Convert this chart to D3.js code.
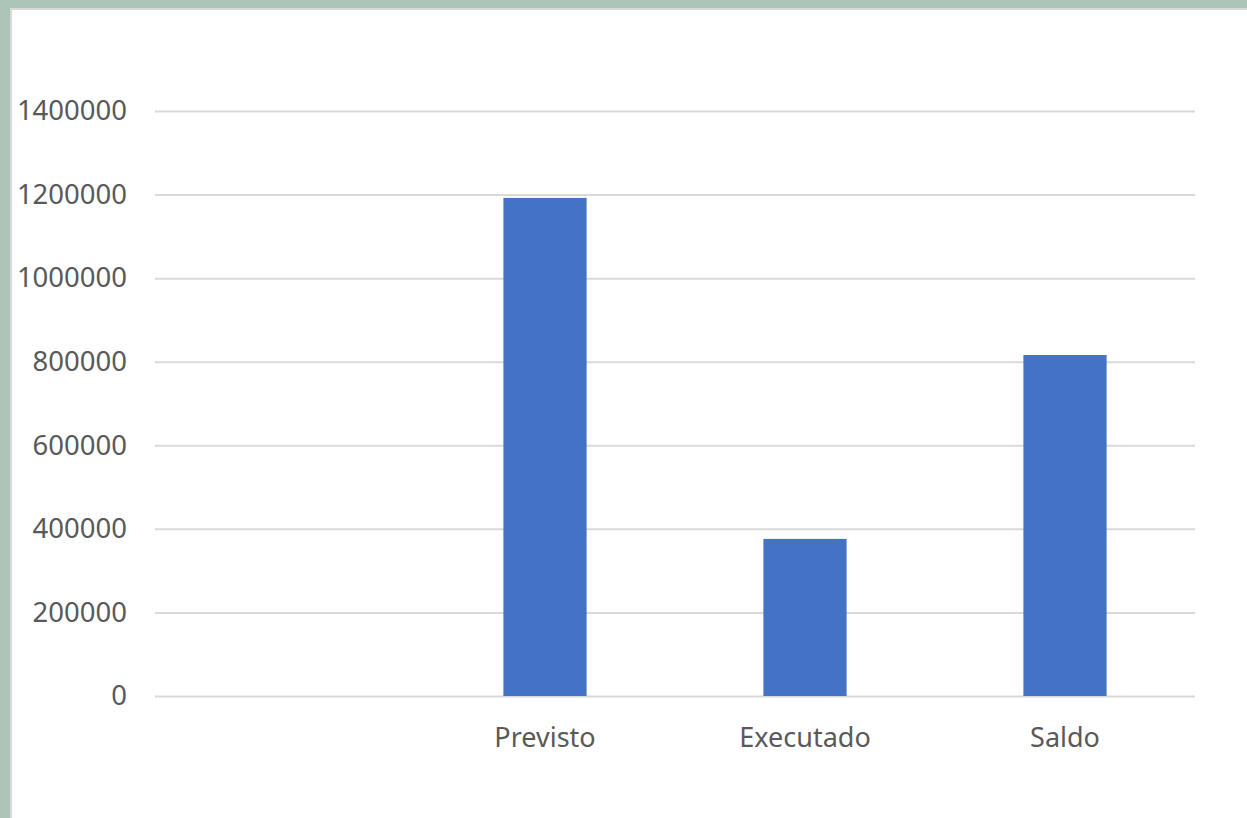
<!DOCTYPE html>
<meta charset='utf-8'>
<style>
	body { margin: 0; background: #adc5b9; }
	#container { width: 1247px; height: 818px; overflow: hidden; }
	.axis text { font-family: 'Noto Sans', sans-serif; fill: #595959; }
	.axis .domain { display: none; }
</style>
<body>
	<div id='container'></div>
<script src='https://d3js.org/d3.v7.min.js'></script>
<script>
	const categories = ['', 'Previsto', 'Executado', 'Saldo'];
	const values = [null, 1192000, 376000, 816000];
	const yTicks = [0, 200000, 400000, 600000, 800000, 1000000, 1200000, 1400000];

	const W = 1247, H = 818;
	const margin = { top: 111, left: 155, right: 52, bottom: 122 },
		width = W - margin.left - margin.right,
		height = H - margin.top - margin.bottom;

	let svg = d3.select( '#container' )
		.append( 'svg' )
		.attr( 'width', W )
		.attr( 'height', H );

	// white chart panel with thin grey edge
	svg.append( 'rect' )
		.attr( 'x', 11 ).attr( 'y', 9 )
		.attr( 'width', W ).attr( 'height', H )
		.attr( 'fill', '#fff' )
		.attr( 'stroke', '#d9d9d9' )
		.attr( 'stroke-width', 2 );

	let g = svg.append( 'g' )
		.attr( 'transform', `translate( ${margin.left}, ${margin.top} )` );

	let xScale = d3.scaleBand()
		.domain( categories )
		.range( [0, width] )
		.paddingInner( 0.68 )
		.paddingOuter( 0.34 );

	let yScale = d3.scaleLinear()
		.domain( [0, 1400000] )
		.range( [height, 0] );

	let yAxis = d3.axisLeft( yScale )
		.tickValues( yTicks )
		.tickFormat( d3.format( 'd' ) )
		.tickSize( -width )
		.tickPadding( 28 );

	let yAxisEl = g.append( 'g' )
		.attr( 'class', 'y axis' )
		.call( yAxis );
	yAxisEl.selectAll( 'line' )
		.attr( 'stroke', '#d9d9d9' )
		.attr( 'stroke-width', 2 );
	yAxisEl.selectAll( 'text' )
		.attr( 'font-size', 27.5 );

	g.selectAll( '.bar' )
		.data( categories.map( ( c, i ) => ( { c, v: values[i] } ) ).filter( d => d.v != null ) )
		.enter().append( 'rect' )
			.attr( 'class', 'bar' )
			.attr( 'x', d => xScale( d.c ) )
			.attr( 'y', d => yScale( d.v ) )
			.attr( 'width', xScale.bandwidth() )
			.attr( 'height', d => height - yScale( d.v ) )
			.attr( 'fill', '#4472c4' );

	let xAxis = d3.axisBottom( xScale )
		.tickSize( 0 )
		.tickPadding( 32 );

	let xAxisEl = g.append( 'g' )
		.attr( 'class', 'x axis' )
		.attr( 'transform', `translate( 0, ${height} )` )
		.call( xAxis );
	xAxisEl.selectAll( 'text' )
		.attr( 'font-size', 27 );
</script>
</body>
